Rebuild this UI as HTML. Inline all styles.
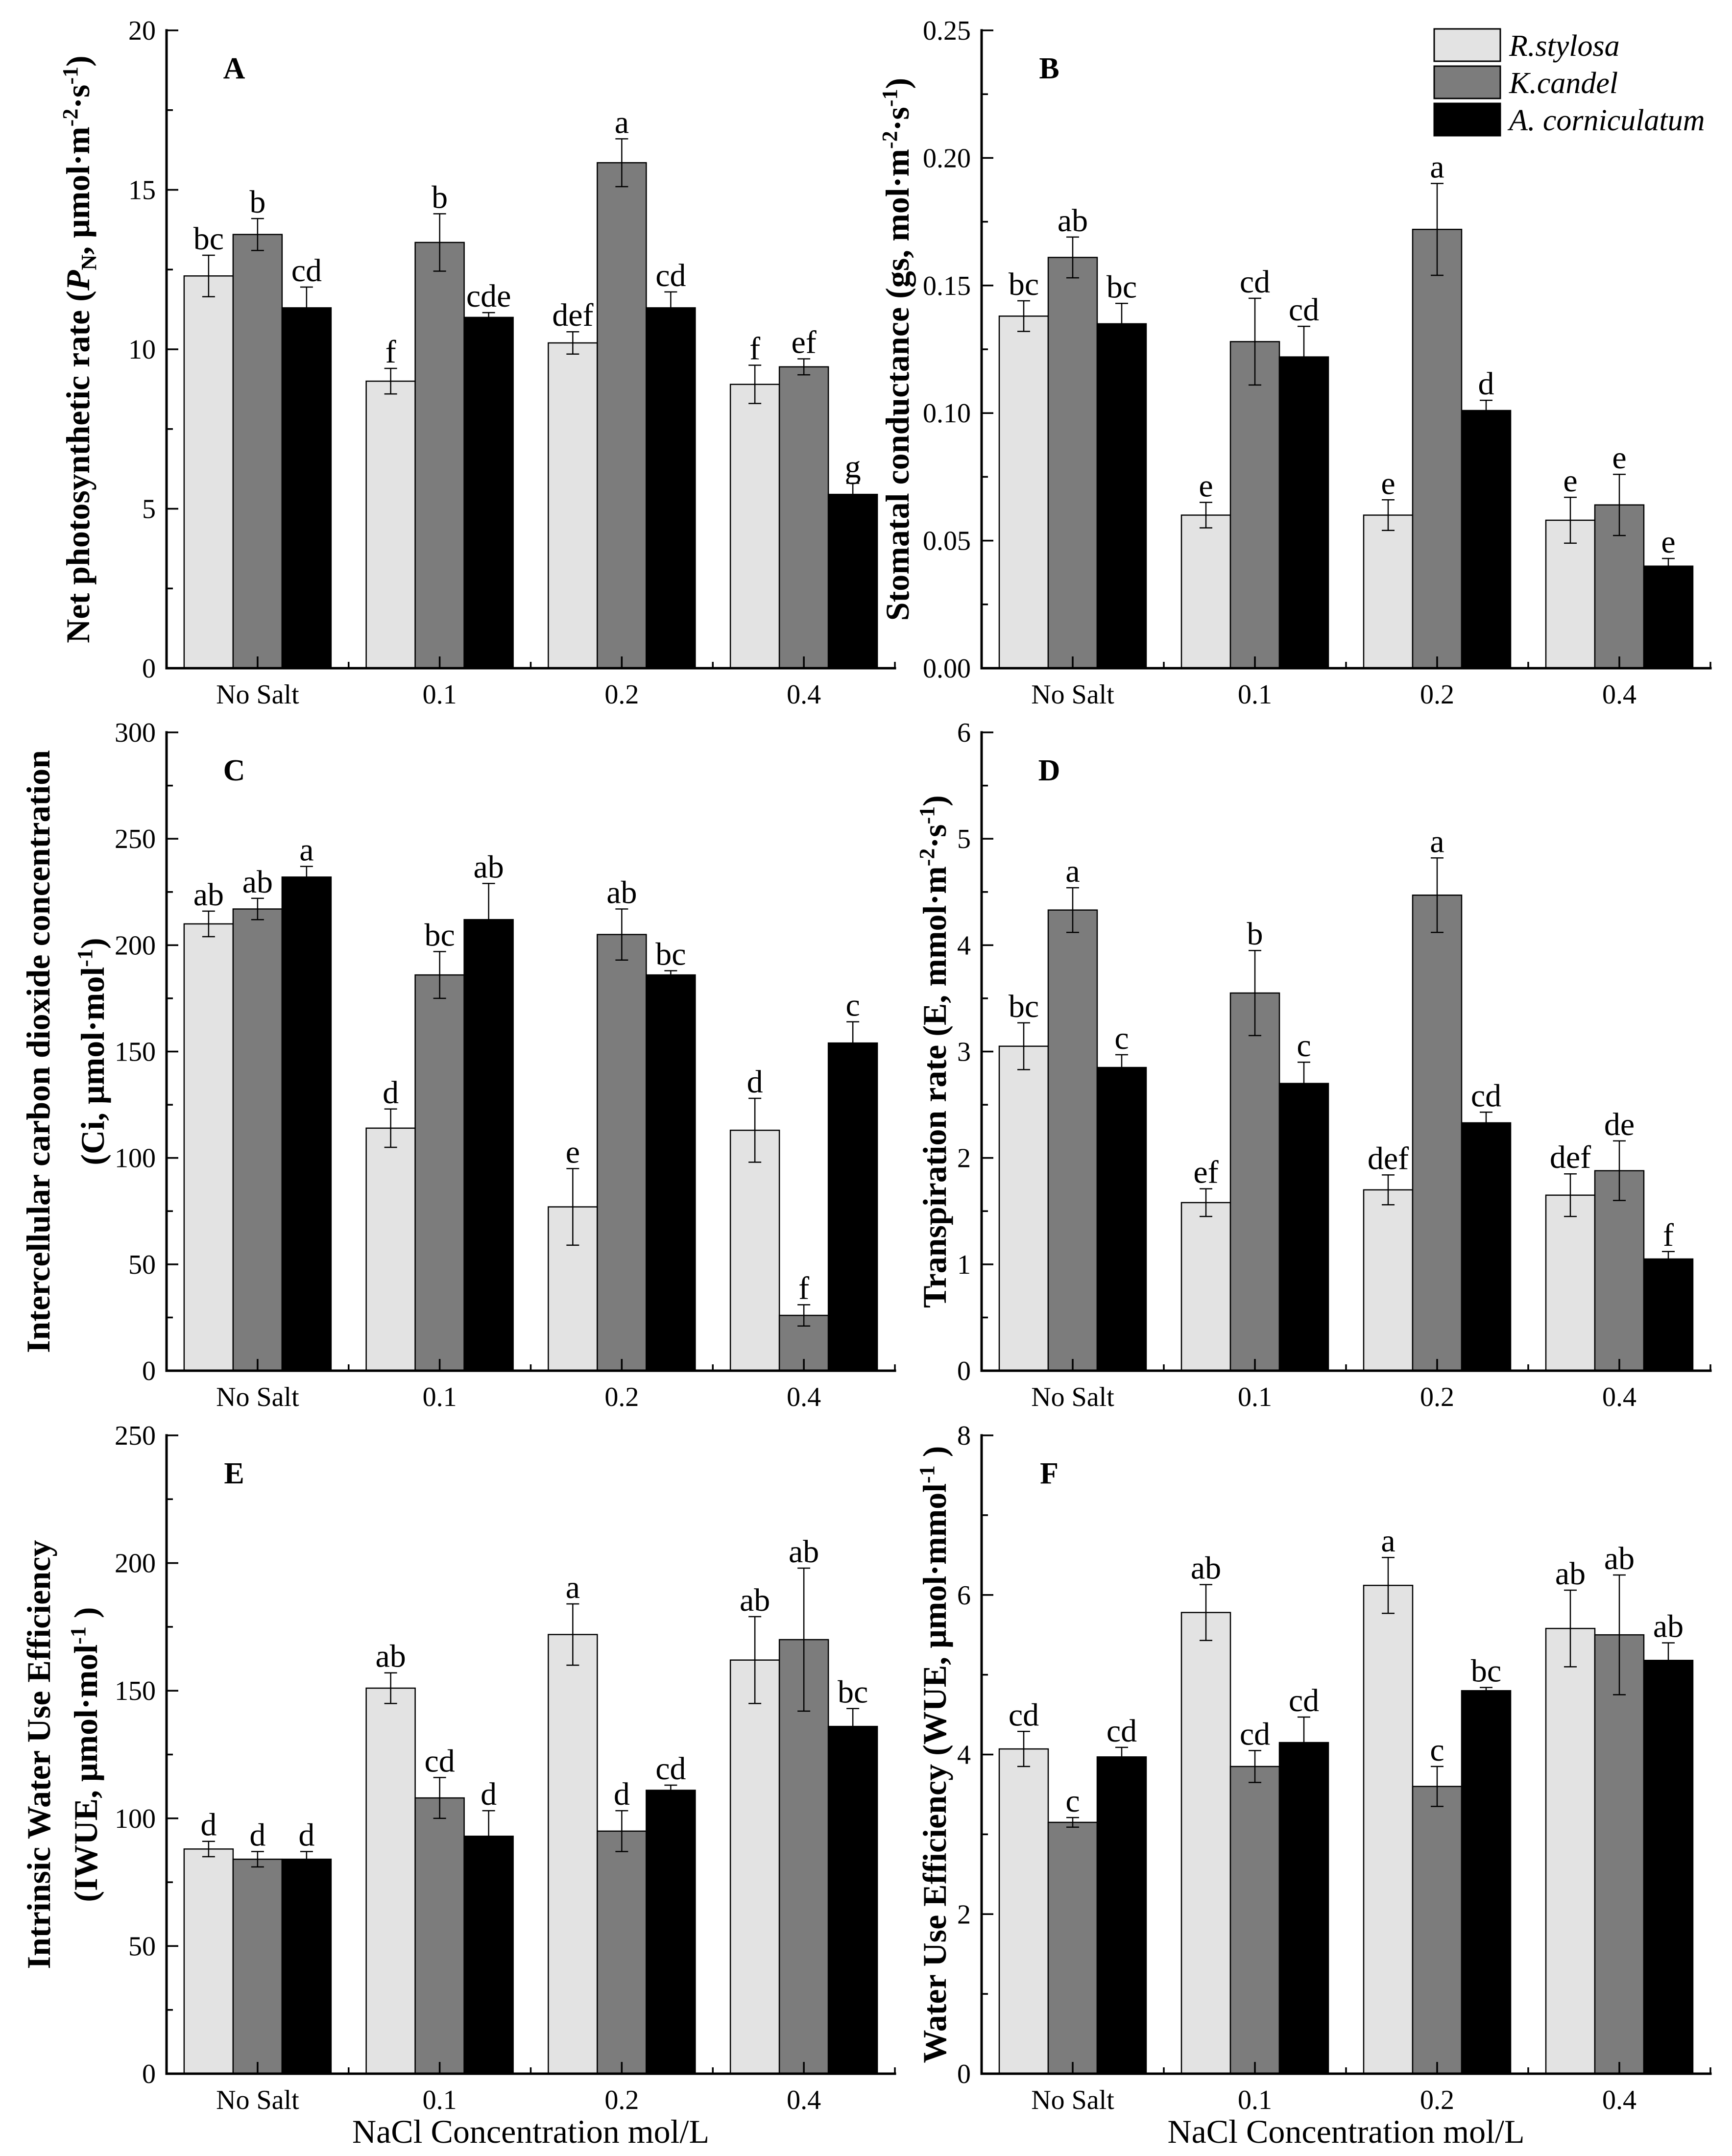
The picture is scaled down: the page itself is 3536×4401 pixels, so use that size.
<!DOCTYPE html>
<html><head><meta charset="utf-8"><style>
html,body{margin:0;padding:0;background:#fff}
svg{display:block}
text{font-family:"Liberation Serif",serif;fill:#000}
</style></head><body>
<svg id="fig" width="3536" height="4401" viewBox="0 0 3536 4401" xmlns="http://www.w3.org/2000/svg">
<g id="legend">
<rect x="2928" y="59" width="135" height="66" fill="#e3e3e3" stroke="#000" stroke-width="3"/>
<text x="3081" y="114" font-size="62" font-style="italic">R.stylosa</text>
<rect x="2928" y="135" width="135" height="66" fill="#7c7c7c" stroke="#000" stroke-width="3"/>
<text x="3081" y="190" font-size="62" font-style="italic">K.candel</text>
<rect x="2928" y="211" width="135" height="66" fill="#000" stroke="#000" stroke-width="3"/>
<text x="3081" y="266" font-size="62" font-style="italic">A. corniculatum</text>
</g>
</svg>
<script>
const categories = ["No Salt","0.1","0.2","0.4"];
const seriesNames = ["R.stylosa","K.candel","A. corniculatum"];
const fills = ["#e3e3e3","#7c7c7c","#000000"];

const A_rs=[12.3,9.0,10.2,8.9], A_rsErr=[0.65,0.4,0.35,0.6], A_rsLab=["bc","f","def","f"];
const A_kc=[13.6,13.35,15.85,9.45], A_kcErr=[0.5,0.9,0.75,0.25], A_kcLab=["b","b","a","ef"];
const A_ac=[11.3,11.0,11.3,5.45], A_acErr=[0.65,0.15,0.5,0.35], A_acLab=["cd","cde","cd","g"];
const A_ticks=[0,5,10,15,20];

const B_rs=[0.138,0.060,0.060,0.058], B_rsErr=[0.006,0.005,0.006,0.009], B_rsLab=["bc","e","e","e"];
const B_kc=[0.161,0.128,0.172,0.064], B_kcErr=[0.008,0.017,0.018,0.012], B_kcLab=["ab","cd","a","e"];
const B_ac=[0.135,0.122,0.101,0.040], B_acErr=[0.008,0.012,0.004,0.003], B_acLab=["bc","cd","d","e"];
const B_ticks=[0,0.05,0.10,0.15,0.20,0.25];

const C_rs=[210,114,77,113], C_rsErr=[6,9,18,15], C_rsLab=["ab","d","e","d"];
const C_kc=[217,186,205,26], C_kcErr=[5,11,12,5], C_kcLab=["ab","bc","ab","f"];
const C_ac=[232,212,186,154], C_acErr=[5,17,2,10], C_acLab=["a","ab","bc","c"];
const C_ticks=[0,50,100,150,200,250,300];

const D_rs=[3.05,1.58,1.70,1.65], D_rsErr=[0.22,0.13,0.14,0.2], D_rsLab=["bc","ef","def","def"];
const D_kc=[4.33,3.55,4.47,1.88], D_kcErr=[0.21,0.4,0.35,0.28], D_kcLab=["a","b","a","de"];
const D_ac=[2.85,2.70,2.33,1.05], D_acErr=[0.12,0.2,0.1,0.07], D_acLab=["c","c","cd","f"];
const D_ticks=[0,1,2,3,4,5,6];

const E_rs=[88,151,172,162], E_rsErr=[3,6,12,17], E_rsLab=["d","ab","a","ab"];
const E_kc=[84,108,95,170], E_kcErr=[3,8,8,28], E_kcLab=["d","cd","d","ab"];
const E_ac=[84,93,111,136], E_acErr=[3,10,2,7], E_acLab=["d","d","cd","bc"];
const E_ticks=[0,50,100,150,200,250];

const F_rs=[4.07,5.78,6.12,5.58], F_rsErr=[0.22,0.35,0.35,0.48], F_rsLab=["cd","ab","a","ab"];
const F_kc=[3.15,3.85,3.60,5.50], F_kcErr=[0.06,0.2,0.25,0.75], F_kcLab=["c","cd","c","ab"];
const F_ac=[3.97,4.15,4.80,5.18], F_acErr=[0.12,0.32,0.04,0.22], F_acLab=["cd","cd","bc","ab"];
const F_ticks=[0,2,4,6,8];

const NS="http://www.w3.org/2000/svg";
const svg=document.getElementById("fig");
function mk(tag,attrs,parent){const e=document.createElementNS(NS,tag);for(const k in attrs)e.setAttribute(k,attrs[k]);(parent||svg).appendChild(e);return e;}

const panels=[
 {id:"a",letter:"A",x0:340,x1:1827,top:62,bot:1364,ticks:A_ticks,dec:0,vals:[A_rs,A_kc,A_ac],errs:[A_rsErr,A_kcErr,A_acErr],labs:[A_rsLab,A_kcLab,A_acLab],title:["Net photosynthetic rate (<tspan font-style='italic'>P</tspan><tspan font-size='44' dy='14'>N</tspan><tspan dy='-14'>,  μmol·m</tspan><tspan font-size='44' dy='-24'>-2</tspan><tspan dy='24'>·s</tspan><tspan font-size='44' dy='-24'>-1</tspan><tspan dy='24'>)</tspan>"],tx:[160]},
 {id:"b",letter:"B",x0:2004,x1:3492,top:62,bot:1364,ticks:B_ticks,dec:2,vals:[B_rs,B_kc,B_ac],errs:[B_rsErr,B_kcErr,B_acErr],labs:[B_rsLab,B_kcLab,B_acLab],title:["Stomatal conductance (gs, mol·m<tspan font-size='44' dy='-24'>-2</tspan><tspan dy='24'>·s</tspan><tspan font-size='44' dy='-24'>-1</tspan><tspan dy='24'>)</tspan>"],tx:[1833]},
 {id:"c",letter:"C",x0:340,x1:1827,top:1495,bot:2798,ticks:C_ticks,dec:0,vals:[C_rs,C_kc,C_ac],errs:[C_rsErr,C_kcErr,C_acErr],labs:[C_rsLab,C_kcLab,C_acLab],title:["Intercellular carbon dioxide concentration","(Ci, μmol·mol<tspan font-size='44' dy='-24'>-1</tspan><tspan dy='24'>)</tspan>"],tx:[79,190]},
 {id:"d",letter:"D",x0:2004,x1:3492,top:1495,bot:2798,ticks:D_ticks,dec:0,vals:[D_rs,D_kc,D_ac],errs:[D_rsErr,D_kcErr,D_acErr],labs:[D_rsLab,D_kcLab,D_acLab],title:["Transpiration rate (E, mmol·m<tspan font-size='44' dy='-24'>-2</tspan><tspan dy='24'>·s</tspan><tspan font-size='44' dy='-24'>-1</tspan><tspan dy='24'>)</tspan>"],tx:[1909]},
 {id:"e",letter:"E",x0:340,x1:1827,top:2930,bot:4233,ticks:E_ticks,dec:0,vals:[E_rs,E_kc,E_ac],errs:[E_rsErr,E_kcErr,E_acErr],labs:[E_rsLab,E_kcLab,E_acLab],title:["Intrinsic Water Use Efficiency","(IWUE,  μmol·mol<tspan font-size='44' dy='-24'>-1</tspan><tspan dy='24'> )</tspan>"],tx:[80,176]},
 {id:"f",letter:"F",x0:2004,x1:3492,top:2930,bot:4233,ticks:F_ticks,dec:0,vals:[F_rs,F_kc,F_ac],errs:[F_rsErr,F_kcErr,F_acErr],labs:[F_rsLab,F_kcLab,F_acLab],title:["Water Use Efficiency (WUE, μmol·mmol<tspan font-size='44' dy='-24'>-1</tspan><tspan dy='24'> )</tspan>"],tx:[1909]}
];

const legend=document.getElementById("legend");
panels.forEach(p=>{
  const g=mk("g",{});
  
  
  const ymax=p.ticks[p.ticks.length-1];
  const y=v=>p.bot-(v/ymax)*(p.bot-p.top);
  const cw=(p.x1-p.x0)/categories.length;
  const cx=i=>p.x0+cw*(i+0.5);
  const bw=100;
  for(let s=0;s<3;s++){
    for(let i=0;i<categories.length;i++){
      const v=p.vals[s][i], e=p.errs[s][i];
      const bx=cx(i)-1.5*bw+s*bw;
      const r=mk("rect",{x:bx,y:y(v),width:bw,height:p.bot-y(v),fill:fills[s],stroke:"#000","stroke-width":2.5},g);
      
      
      const mx=bx+bw/2, yt=y(v+e), yb=y(v-e);
      const eb=mk("path",{d:`M${mx},${yt}V${yb}M${mx-13},${yt}H${mx+13}M${mx-13},${yb}H${mx+13}`,stroke:"#000","stroke-width":2.5,fill:"none"},g);
      
      
      const t=mk("text",{x:mx,y:yt-12,"font-size":66,"text-anchor":"middle"},g);
      t.textContent=p.labs[s][i];
      
      
    }
  }
  const ax=mk("path",{d:`M${p.x0},${p.top}V${p.bot}H${p.x1}`,stroke:"#000","stroke-width":5,fill:"none","stroke-linecap":"square"},g);
  
  
  let d="";
  p.ticks.forEach((t,k)=>{
    d+=`M${p.x0},${y(t)}H${p.x0+24}`;
    if(k<p.ticks.length-1){const mid=(t+p.ticks[k+1])/2; d+=`M${p.x0},${y(mid)}H${p.x0+13}`;}
    const tl=mk("text",{x:p.x0-22,y:y(t)+19,"font-size":56,"text-anchor":"end"},g);
    tl.textContent=t.toFixed(p.dec);
    
    
  });
  for(let i=0;i<categories.length;i++){
    d+=`M${cx(i)},${p.bot}V${p.bot-24}`;
    if(i>0)d+=`M${p.x0+cw*i},${p.bot}V${p.bot-13}`;
    const xl=mk("text",{x:cx(i),y:p.bot+72,"font-size":56,"text-anchor":"middle"},g);
    xl.textContent=categories[i];
    
    
  }
  d+=`M${p.x1},${p.bot}V${p.bot-13}`;
  const tk=mk("path",{d:d,stroke:"#000","stroke-width":3.5,fill:"none"},g);
  
  
  const L=mk("text",{x:p.x0+138,y:p.top+98,"font-size":62,"font-weight":"bold","text-anchor":"middle"},g);
  L.textContent=p.letter;
  
  
  const cy=(p.top+p.bot)/2;
  p.title.forEach((tt,k)=>{
    const yt=mk("text",{transform:`translate(${p.tx[k]+22},${cy}) rotate(-90)`,"font-size":68,"font-weight":"bold","text-anchor":"middle"},g);
    yt.innerHTML=tt;
    
    
  });
  if(p.id==="e"||p.id==="f"){
    const xt=mk("text",{x:(p.x0+p.x1)/2,y:4374,"font-size":68,"text-anchor":"middle"},g);
    xt.textContent="NaCl Concentration mol/L";
    
    
  }
});
svg.appendChild(legend);
</script>
</body></html>
